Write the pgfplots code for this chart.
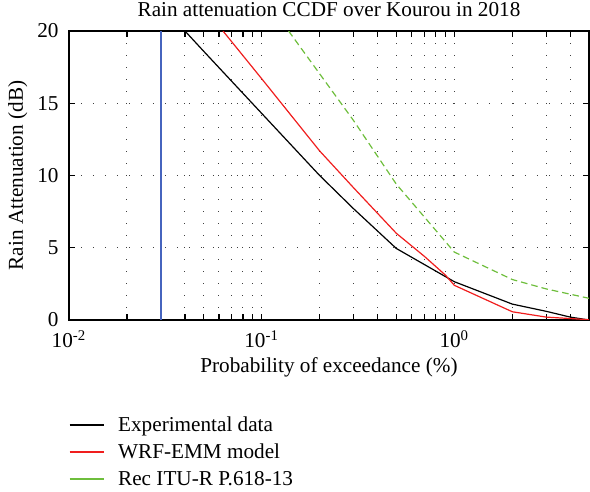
\documentclass[border=0pt]{standalone}
\usepackage{fontspec}
\setmainfont{Liberation Serif}
\usepackage{pgfplots}
\pgfplotsset{compat=1.18}
\definecolor{cgreen}{RGB}{110,190,60}
\definecolor{cblue}{RGB}{70,100,190}
\definecolor{cred}{RGB}{240,30,30}

\begin{document}
\begin{tikzpicture}[font=\fontsize{10.6}{12.7}\selectfont]
\begin{axis}[
  name=ax,
  scale only axis, width=260pt, height=144.5pt,
  xmode=log, xmin=0.01, xmax=5, ymin=0, ymax=20,
  xtick={0.01,0.1,1},
  xticklabels={10\textsuperscript{-2},10\textsuperscript{-1},10\textsuperscript{0}},
  minor xtick={0.02,0.03,0.04,0.05,0.06,0.07,0.08,0.09,0.2,0.3,0.4,0.5,0.6,0.7,0.8,0.9,2,3,4,5},
  ytick={0,5,10,15,20}, yticklabels={0,5,10,15,20},
  tick align=inside, tick pos=both,
  major tick length=3pt, minor tick length=3pt,
  xmajorgrids, xminorgrids, ymajorgrids,
  grid style={black!75, line width=0.5pt, dash pattern=on 0.5pt off 5.5pt},
  minor grid style={black!75, line width=0.5pt, dash pattern=on 0.5pt off 5.5pt},
  axis line style={line width=0.6pt},
  every tick/.style={black, line width=0.6pt},
  xticklabel style={anchor=base, inner sep=0pt, yshift=-14pt},
  yticklabel style={anchor=east, inner sep=0pt, xshift=-5pt},
  title={Rain attenuation CCDF over Kourou in 2018},
  every axis title/.style={at={(axis description cs:0.5,1)}, anchor=base, inner sep=0pt, yshift=7pt},
  xlabel={Probability of exceedance (\%)},
  xlabel style={at={(axis description cs:0.5,0)}, anchor=base, inner sep=0pt, yshift=-26.5pt},
  ylabel={Rain Attenuation (dB)},
  ylabel style={at={(axis description cs:-0.0885,0.5)}, anchor=base, inner sep=0pt},
  legend style={at={(axis description cs:0,0)}, anchor=north west, yshift=-47.8pt,
    draw=none, fill=none, inner sep=0pt, outer sep=0pt, row sep=4.1pt, column sep=7pt,
    nodes={inner sep=0pt, text height=8pt, text depth=1.4pt, anchor=west}},
  legend cell align=left,
  legend image code/.code={\draw[#1, solid] (0pt,0pt) -- (17pt,0pt);},
]
\addplot[cblue, line width=0.8pt, forget plot] coordinates {(0.03,0) (0.03,20)};
\addplot[black, line width=0.6pt] coordinates {
  (0.04,20) (0.05,18.6) (0.1,14.3) (0.2,10.0) (0.3,7.7) (0.4,6.15) (0.5,4.95)
  (1,2.65) (2,1.1) (3,0.6) (4,0.2) (5,0)};
\addlegendentry{Experimental data}
\addplot[cred, line width=0.6pt] coordinates {
  (0.063,20) (0.1,16.7) (0.2,11.7) (0.3,9.15) (0.5,6.0) (0.7,4.4) (0.9,3.1)
  (1,2.4) (2,0.57) (3,0.2) (4,0.1) (5,0.02)};
\addlegendentry{WRF-EMM model}
\addplot[cgreen, line width=0.6pt, dash pattern=on 3.3pt off 2pt] coordinates {
  (0.138,20) (0.3,13.8) (0.5,9.4) (1,4.7) (2,2.8) (3,2.15) (5,1.5)};
\addlegendentry{Rec ITU-R P.618-13}
\end{axis}
\pgfresetboundingbox
\path ([shift={(-34.5pt,-86pt)}]ax.south west) rectangle ([shift={(0.5pt,15.5pt)}]ax.north east);
\end{tikzpicture}
\end{document}
